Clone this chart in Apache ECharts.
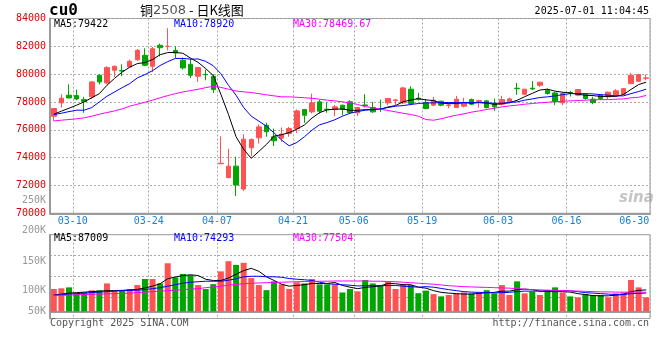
<!DOCTYPE html>
<html><head><meta charset="utf-8">
<script src="https://cdn.jsdelivr.net/npm/echarts@6/dist/echarts.min.js"></script>
<style>html,body{margin:0;padding:0;background:#fff}#c{width:660px;height:360px}</style>
</head><body><div id="c"></div>
<script>
// ---------- data ----------
const dates = ['03-05','03-06','03-07','03-10','03-11','03-12','03-13','03-14','03-17','03-18','03-19','03-20','03-21','03-24','03-25','03-26','03-27','03-28','03-31',
'04-01','04-02','04-03','04-07','04-08','04-09','04-10','04-11','04-14','04-15','04-16','04-17','04-18','04-21','04-22','04-23','04-24','04-25','04-28','04-29','04-30',
'05-06','05-07','05-08','05-09','05-12','05-13','05-14','05-15','05-16','05-19','05-20','05-21','05-22','05-23','05-26','05-27','05-28','05-29','05-30',
'06-03','06-04','06-05','06-06','06-09','06-10','06-11','06-12','06-13','06-16','06-17','06-18','06-19','06-20','06-23','06-24','06-25','06-26','06-27','06-30'];
const opens = [76980,77940,78490,78460,78170,78370,79920,79370,80280,80260,80520,81040,81350,80570,82070,81990,81710,81000,80710,79850,79980,79850,73560,72560,73390,71740,74710,75430,76330,75500,75400,75740,76090,77460,77290,78010,77480,77460,77770,78010,77220,77790,77600,77520,77940,78100,77940,78920,78270,77940,77770,78060,77740,77600,77700,78170,78030,78080,77890,77840,78030,78990,78560,78990,79200,78840,78650,77940,78680,78490,78560,78200,78490,78370,78490,78560,79320,79490,79700];
const closes = [77530,78270,78290,78220,78030,79440,79440,80470,80570,80230,80920,81710,80640,81830,81900,82010,81520,80450,79920,80470,79960,78890,73600,73390,72030,75330,75300,76210,75860,75210,75690,76090,77360,77050,77940,77340,77440,77650,77460,77240,77600,77740,77290,77480,78250,78150,79010,77890,78200,77530,78130,77770,77790,78200,77940,77840,78100,77600,77650,78170,78220,78960,78920,78940,79420,78610,78010,78610,78630,78890,78250,77960,78250,78700,78800,78960,79920,79970,79730];
const lows = [76640,77600,78270,78130,77220,78220,79270,79270,79800,79850,80470,80950,80570,80160,81280,81710,81140,80330,79730,79440,79560,78650,73550,72560,71240,71600,74110,75020,75500,74830,75140,75500,75780,76500,77170,77170,77220,76980,77050,77170,76980,77600,77220,77290,77770,77770,77840,77770,78100,77480,77700,77700,77550,77600,77620,77770,77600,77530,77360,77770,77900,78520,78490,78860,79080,78530,77770,77770,78390,78410,78170,77840,78130,78220,78440,78490,79270,79440,79560];
const highs = [77560,78560,79270,78890,78370,79510,79990,80570,80600,80710,81040,81810,81860,81950,82190,83300,82000,81190,81120,80520,80330,79990,75540,74640,74060,75690,75380,76380,76500,76090,76170,76210,77460,77480,78600,78170,78010,77770,77800,78130,77620,78560,78010,78170,78270,78220,79080,79130,78650,78200,78370,78080,77980,78440,78300,78250,78170,78130,78250,78440,78320,79370,78940,79490,79440,78960,78730,78730,78800,78910,78610,78370,78530,78750,78920,78990,80090,79990,79970];
const ma5 = [77120,77340,77550,77770,78010,78300,78600,79200,79700,80150,80500,80760,80830,81050,81400,81550,81560,81500,81150,80850,80400,79900,78550,77100,75500,74600,73950,74450,74950,75550,75650,75800,76050,76350,76850,77230,77440,77480,77500,77400,77400,77450,77450,77480,77640,77740,78020,78140,78240,78150,78100,77920,77880,77880,77950,77910,77960,77920,77830,77870,77950,78120,78380,78620,78860,78920,78780,78700,78650,78560,78480,78460,78400,78400,78400,78530,78900,79250,79422];
const ma10 = [77100,77190,77310,77410,77410,77600,78010,78410,78720,79030,79320,79730,79970,80250,80620,80900,81130,81130,81080,81090,80920,80600,80030,79200,78485,77600,76980,76620,76260,75780,75260,74850,75090,75500,75980,76360,76525,76720,76980,77190,77310,77410,77460,77500,77600,77700,77740,77820,77890,77935,77935,77960,77960,77960,77960,77960,77960,77935,77910,77910,77960,78010,78130,78220,78320,78370,78440,78530,78600,78600,78600,78580,78530,78490,78440,78440,78600,78750,78920];
const ma30 = [76640,76690,76740,76790,76860,76980,77120,77240,77360,77500,77700,77840,77980,78130,78300,78460,78600,78720,78820,78910,79030,79130,79050,78920,78790,78730,78680,78600,78510,78440,78370,78370,78340,78300,78270,78200,78130,78080,78010,77940,77820,77670,77580,77480,77390,77290,77190,77100,76980,76740,76690,76790,76930,77050,77150,77270,77360,77460,77550,77650,77720,77770,77840,77890,77940,77980,78030,78050,78080,78100,78130,78150,78170,78170,78200,78220,78300,78340,78470];
const volumes = [90700,93500,97200,72900,76700,85100,85100,113100,84200,84200,90700,106600,130900,130900,113100,194500,137400,151500,146800,106600,90700,110300,161800,202900,187900,196400,134600,106600,86000,121600,109400,90700,117800,113100,130900,109400,109400,109400,76700,90700,81300,127200,113100,106600,120600,90700,110300,106600,73900,84200,70100,60800,66400,72900,76700,72900,76700,86000,72900,106600,66400,121600,72900,79500,66400,86000,97200,76700,60800,57000,70100,66400,66400,57000,72900,76700,127200,97200,57000];
const vma5 = [66000,70000,74000,76000,78000,80000,82000,84000,84000,85000,87000,89000,95000,102000,112000,132000,139000,145000,148000,145000,130000,125000,125000,135000,150000,165000,174000,162000,140000,125000,110000,102000,105000,108000,113000,113000,113000,117000,105000,98000,92000,97000,100000,103000,113000,112000,108000,108000,98000,94000,84000,77000,74000,72000,70000,70000,73000,76000,77000,82000,82000,88000,90000,88000,82000,80000,80000,80000,78000,72000,68000,64000,63000,63000,66000,69000,80000,85000,87009];
const vma10 = [65000,67000,70000,72000,74000,76000,78000,80000,82000,84000,85000,86000,88000,92000,96000,102000,108000,114000,118000,120000,122000,122000,122000,126000,132000,140000,142000,142000,140000,140000,138000,133000,130000,128000,125000,118000,112000,110000,108000,106000,103000,104000,104000,104000,105000,105000,102000,100000,98000,100000,98000,93000,88000,84000,80000,78000,77000,76000,75000,76000,77000,80000,82000,82000,82000,84000,84000,84000,83000,80000,76000,74000,72000,70000,68000,68000,72000,73000,74293];
const vma30 = [65000,65000,66000,67000,68000,69000,70000,71000,72000,73000,74000,76000,78000,80000,82000,84000,86000,88000,90000,92000,96000,99000,102000,106000,109000,112000,114000,115000,116000,117000,118000,119000,120000,121000,121000,122000,122000,123000,123000,123000,123000,123000,122000,122000,121000,120000,118000,116000,114000,112000,110000,107000,104000,102000,100000,99000,98000,97000,96000,95000,94000,92000,90000,88000,87000,86000,85000,84000,83000,82000,81000,80000,79000,79000,78000,78000,78000,78000,77504];
const xTickDates = ['03-10','03-24','04-07','04-21','05-06','05-19','06-03','06-16','06-30'];
const xGridDates = ['03-10','03-24','04-07','04-21','05-06','05-19','06-03','06-16'];
const volTickLabels = ['50K','100K','150K','200K','250K'];
const priceLegend = ['MA5:79422','MA10:78920','MA30:78469.67'];
const volLegend = ['MA5:87009','MA10:74293','MA30:77504'];

// ---------- style / layout ----------
const FONT = 'DejaVu Sans Mono';
const RED = '#ff5252', GREEN = '#00a600';
const GRIDC = '#aaaaaa', BORDER = '#9a9a9a';
const labelIdx = xTickDates.map(d => dates.indexOf(d));
const gridIdx = xGridDates.map(d => dates.indexOf(d));
const lastLabel = xTickDates[xTickDates.length - 1];
const volLabelOffsets = [0, 20.3, 49.7, 80.7, 110.3]; // px above volume baseline (layout)

const candle = opens.map((o, i) => [o, closes[i], lows[i], highs[i]]);
const volData = volumes.map((v, i) => ({value: v, itemStyle: {color: closes[i] >= opens[i] ? RED : GREEN}}));

function lineSeries(data, color, xi, yi) {
  return {type: 'line', data, xAxisIndex: xi, yAxisIndex: yi, showSymbol: false, symbol: 'none',
    lineStyle: {color, width: 1}, itemStyle: {color}, silent: true, z: 5, animation: false};
}
function txt(text, left, top, color, extra) {
  return Object.assign({text, left, top, padding: 0,
    textStyle: {fontFamily: FONT, fontSize: 10, fontWeight: 'normal', color}}, extra || {});
}

const chart = echarts.init(document.getElementById('c'), null, {renderer: 'canvas'});
chart.setOption({
  animation: false,
  backgroundColor: '#ffffff',
  title: [
    {text: 'cu0', left: 49, top: 3, padding: 0, textStyle: {fontFamily: FONT, fontSize: 16, fontWeight: 'bold', color: '#000'}},
    {text: '{a|铜}{b|2508}{a| - 日K线图}', left: 140, top: 4, padding: 0,
      textStyle: {fontWeight: 'normal', rich: {a: {fontFamily: 'Noto Sans CJK SC', fontSize: 13, fontWeight: 'normal', color: '#000'},
                                               b: {fontFamily: 'DejaVu Sans', fontSize: 13, fontWeight: 'normal', color: '#555'}}}},
    txt('2025-07-01 11:04:45', null, 6, '#000', {right: 11, left: undefined}),
    txt(priceLegend[0], 54, 19, '#000'),
    txt(priceLegend[1], 174, 19, '#0000ff'),
    txt(priceLegend[2], 293, 19, '#ff00ff'),
    txt(volLegend[0], 54, 233, '#000'),
    txt(volLegend[1], 174, 233, '#0000ff'),
    txt(volLegend[2], 293, 233, '#ff00ff'),
    txt('Copyright 2025 SINA.COM', 50, 318, '#555'),
    txt('http://finance.sina.com.cn', null, 318, '#555', {right: 11, left: undefined}),
    {text: 'sina', left: 619, top: 191, padding: 0, textStyle: {fontFamily: 'DejaVu Sans', fontStyle: 'italic', fontWeight: 'bold', fontSize: 15, color: 'rgba(150,150,150,0.55)'}}
  ],
  grid: [
    {left: 50, right: 10, top: 18.5, height: 194.8, show: true, borderColor: BORDER, borderWidth: 1},
    {left: 50, right: 10, top: 234.7, height: 83.8, show: true, borderColor: BORDER, borderWidth: 1},
    {left: 50, right: 10, top: 200.7, height: 110.3, show: false}
  ],
  xAxis: [
    {type: 'category', gridIndex: 0, data: dates, boundaryGap: true,
      axisLine: {show: true, lineStyle: {color: BORDER, width: 2}}, axisTick: {show: false},
      axisLabel: {interval: (i) => labelIdx.includes(i), color: '#1a7fd4', fontFamily: FONT, fontSize: 10, margin: 3,
        formatter: (v) => (v === lastLabel ? '{e|' + v + '}' : '{n|' + v + '}'),
        rich: {n: {padding: [0, 7.6, 0, 0], color: '#1a7fd4', fontFamily: FONT, fontSize: 10},
               e: {padding: [0, 24, 0, 0], color: '#1a7fd4', fontFamily: FONT, fontSize: 10}}},
      splitLine: {show: true, interval: (i) => gridIdx.includes(i), lineStyle: {color: GRIDC, width: 1, type: [2, 2]}}},
    {type: 'category', gridIndex: 1, data: dates, boundaryGap: true,
      axisLine: {show: true, lineStyle: {color: BORDER, width: 2}}, axisTick: {show: false}, axisLabel: {show: false},
      splitLine: {show: true, interval: (i) => gridIdx.includes(i), lineStyle: {color: GRIDC, width: 1, type: [2, 2]}}},
    {type: 'value', gridIndex: 2, show: false, min: 0, max: 1}
  ],
  yAxis: [
    {type: 'value', gridIndex: 0, min: 70000, max: 84000, interval: 2000,
      axisLine: {show: true, lineStyle: {color: BORDER, width: 2}}, axisTick: {show: false},
      axisLabel: {color: '#e00000', fontFamily: FONT, fontSize: 10, margin: 4, formatter: (v) => String(v)},
      splitLine: {show: true, lineStyle: {color: GRIDC, width: 1, type: [2, 2]}}},
    {type: 'value', gridIndex: 1, min: -28500, max: 309900, interval: 84600,
      axisLine: {show: true, lineStyle: {color: BORDER, width: 2}}, axisTick: {show: false}, axisLabel: {show: false},
      splitLine: {show: true, lineStyle: {color: GRIDC, width: 1, type: [2, 2]}}},
    {type: 'value', gridIndex: 2, min: 0, max: 110.3,
      axisLine: {show: false}, axisTick: {show: false}, splitLine: {show: false},
      axisLabel: {show: true, customValues: volLabelOffsets, color: '#999', fontFamily: FONT, fontSize: 10, margin: 4,
        formatter: (v) => {
          let k = 0, d = Infinity;
          volLabelOffsets.forEach((p, j) => { if (Math.abs(p - v) < d) { d = Math.abs(p - v); k = j; } });
          return volTickLabels[k];
        }}}
  ],
  series: [
    {type: 'candlestick', xAxisIndex: 0, yAxisIndex: 0, data: candle, barWidth: 5, silent: true,
      itemStyle: {color: RED, color0: GREEN, borderColor: RED, borderColor0: GREEN, borderWidth: 1}},
    lineSeries(ma5, '#000000', 0, 0),
    lineSeries(ma10, '#0000ff', 0, 0),
    lineSeries(ma30, '#ff00ff', 0, 0),
    {type: 'bar', xAxisIndex: 1, yAxisIndex: 1, data: volData, barWidth: 6, silent: true},
    lineSeries(vma5, '#000000', 1, 1),
    lineSeries(vma10, '#0000ff', 1, 1),
    lineSeries(vma30, '#ff00ff', 1, 1)
  ]
});
</script>
</body></html>
